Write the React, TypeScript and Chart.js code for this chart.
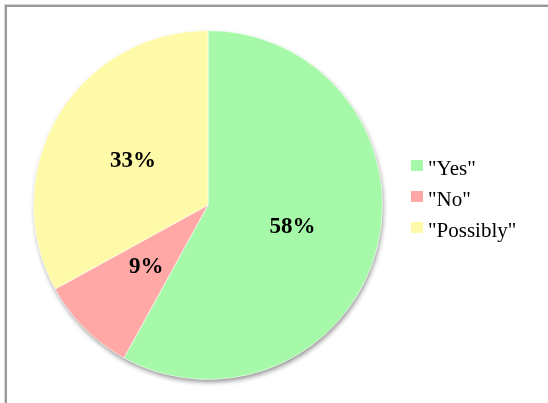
import React, { useEffect, useRef } from "react";
import { Chart, registerables } from "chart.js";

Chart.register(...registerables);

const categories = ['"Yes"', '"No"', '"Possibly"'];
const values = [58, 9, 33];
const valueLabels = ["58%", "9%", "33%"];
const colors = ["#a6f9a8", "#ffa8a6", "#fffaa8"];

const shadowPlugin = {
  id: "pieShadow",
  beforeDatasetsDraw(chart: any) {
    const meta = chart.getDatasetMeta(0);
    const arc = meta.data[0];
    if (!arc) return;
    const { x, y, outerRadius } = arc.getProps(["x", "y", "outerRadius"], true);
    const ctx = chart.ctx;
    ctx.save();
    ctx.shadowColor = "rgba(0,0,0,0.45)";
    ctx.shadowBlur = 5;
    ctx.shadowOffsetX = 1;
    ctx.shadowOffsetY = 3;
    ctx.beginPath();
    ctx.arc(x, y, outerRadius - 0.5, 0, Math.PI * 2);
    ctx.fillStyle = "#a6f9a8";
    ctx.fill();
    ctx.restore();
  },
};

const labelPlugin = {
  id: "sliceLabels",
  afterDatasetsDraw(chart: any) {
    const ctx = chart.ctx;
    const meta = chart.getDatasetMeta(0);
    ctx.save();
    ctx.font = "bold 23px 'Liberation Serif', 'Times New Roman', serif";
    ctx.fillStyle = "#000";
    ctx.textAlign = "center";
    ctx.textBaseline = "middle";
    meta.data.forEach((arc: any, i: number) => {
      const { x, y, startAngle, endAngle, outerRadius } = arc.getProps(
        ["x", "y", "startAngle", "endAngle", "outerRadius"],
        true
      );
      const mid = (startAngle + endAngle) / 2;
      const r = outerRadius * 0.5;
      ctx.fillText(valueLabels[i], x + Math.cos(mid) * r, y + Math.sin(mid) * r);
    });
    ctx.restore();
  },
};

const legendPlugin = {
  id: "customLegend",
  afterDraw(chart: any) {
    const ctx = chart.ctx;
    ctx.save();
    ctx.font = "21px 'Liberation Serif', 'Times New Roman', serif";
    ctx.textAlign = "left";
    ctx.textBaseline = "alphabetic";
    const x0 = 411;
    const y0 = 160;
    const step = 31;
    categories.forEach((c, i) => {
      const y = y0 + i * step;
      ctx.fillStyle = colors[i];
      ctx.fillRect(x0, y, 12, 11);
      ctx.fillStyle = "#000";
      ctx.fillText(c, x0 + 17, y + 15);
    });
    ctx.restore();
  },
};

export default function App() {
  const ref = useRef<HTMLCanvasElement | null>(null);
  useEffect(() => {
    document.body.style.margin = "0";
    const chart = new Chart(ref.current as HTMLCanvasElement, {
      type: "pie",
      data: {
        labels: categories,
        datasets: [
          {
            data: values,
            backgroundColor: colors,
            borderColor: "rgba(255,255,255,0.6)",
            borderWidth: 1,
          },
        ],
      },
      options: {
        animation: false,
        responsive: false,
        layout: { padding: { left: 33, top: 30, right: 165, bottom: 23 } },
        plugins: {
          legend: { display: false },
          tooltip: { enabled: false },
        },
      },
      plugins: [shadowPlugin, labelPlugin, legendPlugin],
    });
    return () => chart.destroy();
  }, []);
  return (
    <div style={{ position: "fixed", left: 0, top: 0, width: 548, height: 403, background: "#fff", overflow: "hidden" }}>
      <div
        style={{
          position: "absolute",
          left: 5,
          top: 5,
          width: 600,
          height: 500,
          borderLeft: "2px solid #9a9a9a",
          borderTop: "2px solid #9a9a9a",
          boxShadow: "-1px -1px 0 #d4d4d4",
        }}
      />
      <canvas ref={ref} width={548} height={403} style={{ position: "absolute", left: 0, top: 0 }} />
    </div>
  );
}
